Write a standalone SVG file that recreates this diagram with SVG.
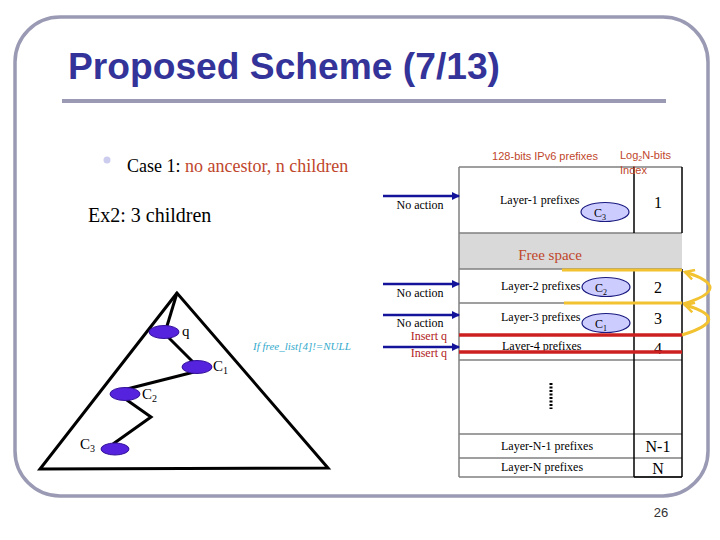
<svg xmlns="http://www.w3.org/2000/svg" width="720" height="540" viewBox="0 0 720 540">
<defs>
<style>
.tnr{font-family:"Liberation Serif","Times New Roman",serif}
.ars{font-family:"Liberation Sans",Arial,sans-serif}
.cell{font-family:"Liberation Serif",serif;font-size:12px;fill:#000}
.idx{font-family:"Liberation Serif",serif;font-size:16px;fill:#000;text-anchor:middle}
.act{font-family:"Liberation Serif",serif;font-size:12px;fill:#000;text-anchor:middle}
.ins{font-family:"Liberation Serif",serif;font-size:12px;fill:#b22222;text-anchor:end}
.blue{stroke:#14149a;stroke-width:2.5;fill:none}
.edge{stroke:#000;stroke-width:3;fill:none}
.node{fill:#5522dd;stroke:#33119a;stroke-width:1}
.tnode{fill:#ccccff;stroke:#1a1a80;stroke-width:1.2}
.nl{font-family:"Liberation Serif",serif;font-size:15px;fill:#000}
.gold{stroke:#f2c230;stroke-width:3;fill:none}
.red{stroke:#cc2020;stroke-width:3.5}
.grid{stroke:#7f7f7f;stroke-width:1.5}
.blk{stroke:#000;stroke-width:1.5}
</style>
<marker id="ab" markerWidth="8" markerHeight="8" refX="7" refY="4" orient="auto" markerUnits="userSpaceOnUse"><path d="M0,0 L8,4 L0,8 Z" fill="#14149a"/></marker>
<marker id="ag" markerWidth="12" markerHeight="12" refX="10" refY="6" orient="auto" markerUnits="userSpaceOnUse"><path d="M1,1 L10,6 L1,11" fill="none" stroke="#f2c230" stroke-width="2.5"/></marker>
</defs>
<rect width="720" height="540" fill="#fff"/>
<rect x="15" y="17" width="693" height="479" rx="45" ry="45" fill="none" stroke="#9a9ab4" stroke-width="3.5"/>
<text x="68" y="79" class="ars" font-size="36" font-weight="bold" fill="#333399" textLength="432" lengthAdjust="spacingAndGlyphs">Proposed Scheme (7/13)</text>
<line x1="62" y1="101" x2="666" y2="101" stroke="#9a9ab4" stroke-width="4"/>
<circle cx="107" cy="160" r="3.5" fill="#ccccee"/>
<text x="127" y="172" class="tnr" font-size="18" fill="#000">Case 1: <tspan fill="#c0462b">no ancestor, n children</tspan></text>
<text x="88" y="222" class="tnr" font-size="20" fill="#000">Ex2: 3 children</text>
<g id="table">
<rect x="459" y="233" width="223" height="36" fill="#d9d9d9"/>
<text x="550" y="260" class="tnr" font-size="15" fill="#c0462b" text-anchor="middle">Free space</text>
<line x1="459" y1="167" x2="682" y2="167" class="grid"/>
<line x1="459" y1="167" x2="459" y2="477" class="grid"/>
<line x1="459" y1="233" x2="682" y2="233" class="grid"/>
<line x1="459" y1="269" x2="682" y2="269" class="grid"/>
<line x1="459" y1="303" x2="682" y2="303" class="grid"/>
<line x1="459" y1="360" x2="682" y2="360" class="grid"/>
<line x1="459" y1="434" x2="682" y2="434" class="grid"/>
<line x1="459" y1="458" x2="682" y2="458" class="grid"/>
<line x1="459" y1="477" x2="682" y2="477" class="grid"/>
<line x1="634" y1="167" x2="634" y2="233" class="blk"/>
<line x1="634" y1="269" x2="634" y2="477" class="blk"/>
<line x1="682" y1="167" x2="682" y2="233" class="blk"/>
<line x1="682" y1="269" x2="682" y2="477" class="blk"/>
<line x1="634" y1="477" x2="682" y2="477" class="blk"/>
<text x="545" y="160" class="ars" font-size="11" fill="#c0462b" text-anchor="middle">128-bits IPv6 prefixes</text>
<text x="620" y="159" class="ars" font-size="11" fill="#c0462b">Log<tspan font-size="7" dy="2">2</tspan><tspan dy="-2">N-bits</tspan></text>
<text x="620" y="174" class="ars" font-size="11" fill="#c0462b">Index</text>
<text x="500" y="204" class="cell">Layer-1 prefixes</text>
<text x="658" y="208" class="idx">1</text>
<text x="501" y="290" class="cell">Layer-2 prefixes</text>
<text x="658" y="293" class="idx">2</text>
<text x="501" y="321" class="cell">Layer-3 prefixes</text>
<text x="658" y="324" class="idx">3</text>
<text x="502" y="350" class="cell">Layer-4 prefixes</text>
<text x="658" y="354" class="idx">4</text>
<line x1="551" y1="383" x2="551" y2="409" stroke="#000" stroke-width="3" stroke-dasharray="2,1.5"/>
<text x="501" y="450" class="cell">Layer-N-1 prefixes</text>
<text x="658" y="452" class="idx">N-1</text>
<text x="501" y="471" class="cell">Layer-N prefixes</text>
<text x="658" y="474" class="idx">N</text>
</g>
<g id="tnode-c3"><ellipse cx="605" cy="212" rx="24" ry="9.5" class="tnode"/><text x="594" y="217" class="cell" font-size="13">C<tspan font-size="8" dy="3">3</tspan></text></g>
<g id="tnode-c2"><ellipse cx="606" cy="287" rx="24" ry="9.5" class="tnode"/><text x="595" y="292" class="cell" font-size="13">C<tspan font-size="8" dy="3">2</tspan></text></g>
<g id="tnode-c1"><ellipse cx="606" cy="323" rx="24" ry="9.5" class="tnode"/><text x="595" y="328" class="cell" font-size="13">C<tspan font-size="8" dy="3">1</tspan></text></g>
<g id="connectors">
<line x1="383" y1="196" x2="459" y2="196" class="blue" marker-end="url(#ab)"/>
<line x1="383" y1="284" x2="459" y2="284" class="blue" marker-end="url(#ab)"/>
<line x1="383" y1="315" x2="459" y2="315" class="blue" marker-end="url(#ab)"/>
<line x1="383" y1="347" x2="459" y2="347" class="blue" marker-end="url(#ab)"/>
<line x1="459" y1="335" x2="682" y2="335" class="red"/>
<line x1="459" y1="352" x2="682" y2="352" class="red"/>
<line x1="562" y1="270" x2="682" y2="270" class="gold"/>
<line x1="564" y1="303" x2="682" y2="303" class="gold"/>
<path d="M682,335 Q734,319 685,305" class="gold" marker-end="url(#ag)"/>
<path d="M683,304 Q736,288 685,272" class="gold" marker-end="url(#ag)"/>
<path d="M177,293 L40,469 L328,468 Z" class="edge" stroke-linejoin="miter"/>
<line x1="177" y1="293" x2="167" y2="326" class="edge"/>
<line x1="168" y1="337" x2="193" y2="362" class="edge"/>
<line x1="198" y1="371" x2="127" y2="389" class="edge"/>
<polyline points="124,398 151,417 113,444" class="edge"/>
</g>
<text x="420" y="209" class="act">No action</text>
<text x="420" y="297" class="act">No action</text>
<text x="420" y="327" class="act">No action</text>
<text x="447" y="340" class="ins">Insert q</text>
<text x="447" y="357" class="ins">Insert q</text>
<text x="253" y="350" class="tnr" font-size="11" font-style="italic" fill="#33aacc">If free_list[4]!=NULL</text>
<g id="node-q"><ellipse cx="164" cy="332" rx="15" ry="6.5" class="node"/><text x="182" y="336" class="nl">q</text></g>
<g id="node-c1"><ellipse cx="197" cy="367" rx="15" ry="6.5" class="node"/><text x="213" y="371" class="nl">C<tspan font-size="10" dy="3">1</tspan></text></g>
<g id="node-c2"><ellipse cx="125" cy="394" rx="15" ry="6.5" class="node"/><text x="142" y="399" class="nl">C<tspan font-size="10" dy="3">2</tspan></text></g>
<g id="node-c3"><ellipse cx="115" cy="449" rx="14" ry="6" class="node"/><text x="80" y="449" class="nl">C<tspan font-size="10" dy="3">3</tspan></text></g>
<text x="661" y="517" class="ars" font-size="13" fill="#333" text-anchor="middle">26</text>
</svg>
